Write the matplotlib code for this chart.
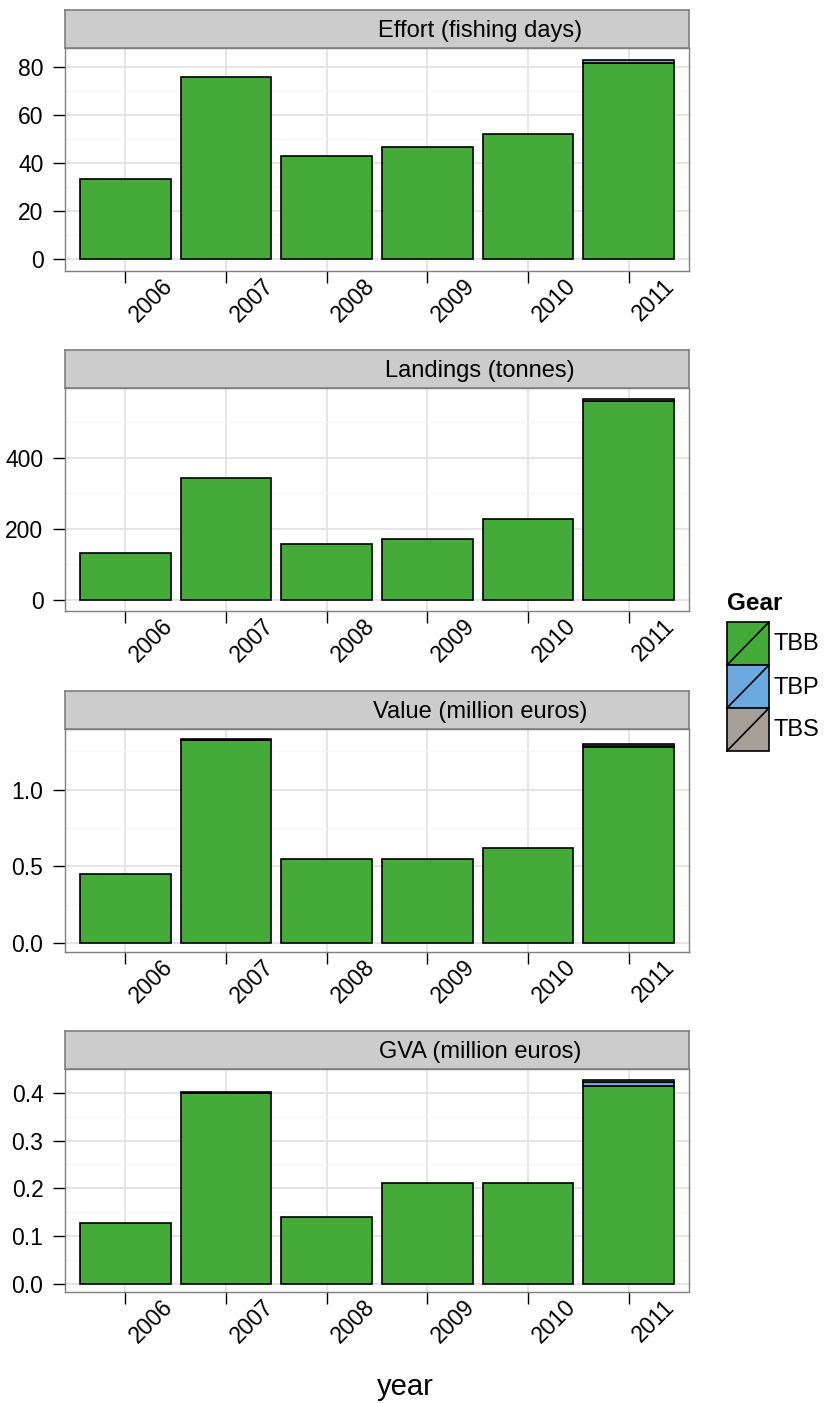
import matplotlib
matplotlib.use("Agg")
import matplotlib.pyplot as plt
import numpy as np
from matplotlib.patches import Rectangle
from matplotlib.lines import Line2D
from matplotlib.ticker import MultipleLocator, FuncFormatter

plt.rcParams["font.family"] = ["Liberation Sans", "DejaVu Sans"]

# -- data -------------------------------------------------------------
years = ["2006", "2007", "2008", "2009", "2010", "2011"]
gears = ["TBB", "TBP", "TBS"]
gear_colors = ["#44AA38", "#6AAADF", "#A69E97"]

effort_tbb = [33.5, 76, 43, 46.5, 52, 81.5]
effort_tbp = [0, 0, 0, 0, 0, 1.5]
effort_tbs = [0, 0, 0, 0, 0, 0]

landings_tbb = [131, 342, 156, 170, 227, 559]
landings_tbp = [0, 0, 0, 0, 0, 2]
landings_tbs = [0, 0, 0, 0, 0, 4]

value_tbb = [0.45, 1.325, 0.55, 0.55, 0.62, 1.28]
value_tbp = [0, 0, 0, 0, 0, 0.004]
value_tbs = [0, 0.006, 0, 0, 0, 0.012]

gva_tbb = [0.127, 0.399, 0.139, 0.21, 0.21, 0.415]
gva_tbp = [0, 0, 0, 0, 0, 0.007]
gva_tbs = [0, 0.002, 0, 0, 0, 0.004]

panels = [
    ("Effort (fishing days)", [effort_tbb, effort_tbp, effort_tbs], (-5.0, 87.9), 20, 10, "{:.0f}"),
    ("Landings (tonnes)", [landings_tbb, landings_tbp, landings_tbs], (-31.7, 597), 200, 100, "{:.0f}"),
    ("Value (million euros)", [value_tbb, value_tbp, value_tbs], (-0.059, 1.395), 0.5, 0.25, "{:.1f}"),
    ("GVA (million euros)", [gva_tbb, gva_tbp, gva_tbs], (-0.0176, 0.45), 0.1, 0.05, "{:.1f}"),
]

# -- layout in pixels --------------------------------------------------
W, H = 824, 1403
fig = plt.figure(figsize=(W / 100, H / 100), dpi=100)
panel_x0, panel_x1 = 65, 689
panel_tops = [48, 388, 729, 1069]
panel_h = 223
strip_h = 38
border = "#7F7F7F"


def px_rect(x0, y0, x1, y1):
    return [x0 / W, 1 - y1 / H, (x1 - x0) / W, (y1 - y0) / H]


x = np.arange(len(years))
for (title, series, ylim, major, minor, fmt), top in zip(panels, panel_tops):
    ax = fig.add_axes(px_rect(panel_x0, top, panel_x1, top + panel_h))
    bottom = np.zeros(len(years))
    for vals, col in zip(series, gear_colors):
        vals = np.asarray(vals, dtype=float)
        mask = vals > 0
        ax.bar(x[mask], vals[mask], width=0.9, bottom=bottom[mask], color=col,
               edgecolor="black", linewidth=1.2, zorder=3)
        bottom += vals
    ax.set_xlim(-0.6, len(years) - 0.4)
    ax.set_ylim(*ylim)
    ax.yaxis.set_major_locator(MultipleLocator(major))
    ax.yaxis.set_minor_locator(MultipleLocator(minor))
    ax.yaxis.set_major_formatter(FuncFormatter(lambda v, p, f=fmt: f.format(v)))
    ax.set_xticks(x)
    ax.set_xticklabels(years, rotation=45, ha="left", va="top",
                       rotation_mode="default", fontsize=16.5)
    ax.tick_params(axis="both", which="major", length=8.5, width=1.0, color="black")
    ax.tick_params(axis="y", which="major", labelsize=16.5, pad=7)
    ax.tick_params(axis="x", which="major", pad=-6)
    ax.tick_params(axis="y", which="minor", length=0)
    ax.grid(True, which="major", color="#E5E5E5", linewidth=1.4, zorder=0)
    ax.grid(True, which="minor", axis="y", color="#F5F5F5", linewidth=1.0, zorder=0)
    ax.set_axisbelow(True)
    for sp in ax.spines.values():
        sp.set_color(border)
        sp.set_linewidth(1.0)

    # facet strip
    sax = fig.add_axes(px_rect(panel_x0, top - strip_h, panel_x1, top))
    sax.set_facecolor("#CCCCCC")
    sax.set_xticks([])
    sax.set_yticks([])
    for sp in sax.spines.values():
        sp.set_color(border)
        sp.set_linewidth(1.2)
    sax.text(0.665, 0.45, title, ha="center", va="center", fontsize=17,
             transform=sax.transAxes)

fig.text(405 / W, 1 - 1387 / H, "year", ha="center", va="center", fontsize=21)

# legend
lax = fig.add_axes(px_rect(720, 585, 824, 760))
lax.set_xlim(720, 824)
lax.set_ylim(760, 585)
lax.axis("off")
lax.text(727, 604, "Gear", fontsize=17.5, fontweight="bold", ha="left", va="center")
key_top = 622
key_h = 43
for i, (g, c) in enumerate(zip(gears, gear_colors)):
    y0 = key_top + i * key_h
    lax.add_patch(Rectangle((727, y0), 42, key_h, facecolor=c, edgecolor="black", linewidth=1.2))
    lax.add_line(Line2D([727, 769], [y0 + key_h, y0], color="black", linewidth=1.2))
    lax.text(773, y0 + key_h / 2 + 1, g, fontsize=17, ha="left", va="center")

fig.savefig("out.png", dpi=100)
